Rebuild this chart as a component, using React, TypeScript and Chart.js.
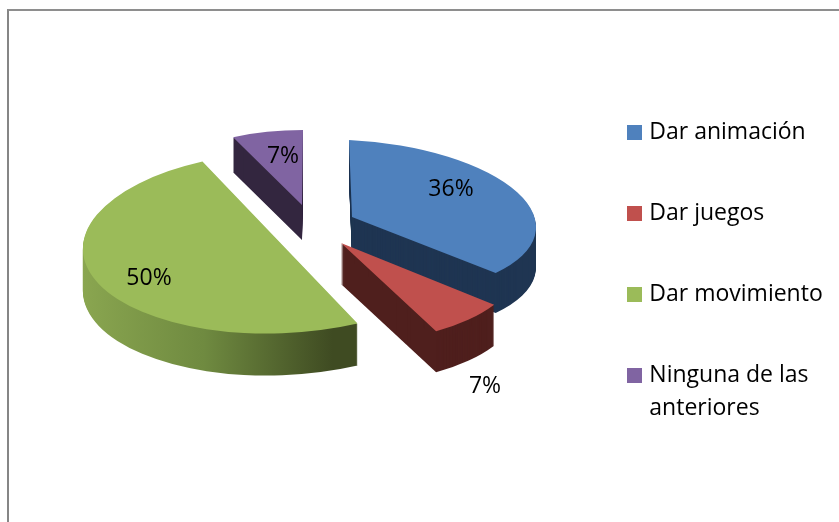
import React, { useEffect, useRef } from "react";
import { Chart, registerables } from "chart.js";

Chart.register(...registerables);

const categories = ["Dar animación", "Dar juegos", "Dar movimiento", ["Ninguna de las", "anteriores"]];
const shares = [36, 7, 50, 7];
const percentLabels = ["36%", "7%", "50%", "7%"];
const topColors = ["#4f81bd", "#c0504d", "#9bbb59", "#8064a2"];
const sideColors = ["#1f3552", "#4f1f1d", "", "#33263f"];

// Perspective look of each exploded slice: a,b,c,d project the unit disc onto the screen,
// dx,dy shift the slice's apex from the canvas centre, depth is the wall height.
const sliceViews = [
  { a: 184, b: 3, c: 9, d: 77, dx: -67.5, dy: -44, depth: 40 },
  { a: 183, b: 19, c: -1, d: 98, dx: -78.5, dy: -18, depth: 41 },
  { a: 197, b: -7, c: -3, d: 91, dx: -139.5, dy: -18.5, depth: 42 },
  { a: 164, b: -1, c: 0, d: 75, dx: -117.5, dy: -56, depth: 35 },
];
const labelShifts = [
  [99, -28],
  [144, 143],
  [-131, 35.5],
  [-19, -49],
];
const drawOrder = [3, 0, 2, 1];
const FONT = "'Open Sans'";
const FONT_SIZE = 23;

function swatch(color: string) {
  const c = document.createElement("canvas");
  c.width = 15;
  c.height = 15;
  const g = c.getContext("2d")!;
  g.fillStyle = color;
  g.fillRect(0, 0, 15, 15);
  return c;
}

const pie3d = {
  id: "pie3d",
  beforeDatasetDraw(chart: any) {
    const { ctx } = chart;
    const arcs = chart.getDatasetMeta(0).data;
    const paint = (el: any, view: any, lift: number, fill: any) => {
      const R = el.outerRadius;
      const A = view.a / R, B = view.c / R, C = view.b / R, D = view.d / R;
      const px = chart.width / 2 + view.dx;
      const py = chart.height / 2 + view.dy + lift;
      const saved = el.options;
      ctx.save();
      ctx.transform(A, B, C, D, px - (A * el.x + C * el.y), py - (B * el.x + D * el.y));
      el.options = { ...saved, backgroundColor: fill };
      el.draw(ctx);
      el.options = saved;
      ctx.restore();
    };
    for (const i of drawOrder) {
      const el = arcs[i];
      const view = sliceViews[i];
      let side: any = sideColors[i];
      if (!side) {
        const R = el.outerRadius;
        const g = ctx.createLinearGradient(el.x - R, 0, el.x + 0.3 * R, 0);
        g.addColorStop(0, "#8aa650");
        g.addColorStop(0.5, "#6f8a40");
        g.addColorStop(1, "#3f4b22");
        side = g;
      }
      for (let k = view.depth; k >= 1; k--) paint(el, view, k, side);
      paint(el, view, 0, topColors[i]);
    }
    ctx.save();
    ctx.fillStyle = "#000";
    ctx.font = `${FONT_SIZE}px ${FONT}`;
    ctx.textAlign = "center";
    ctx.textBaseline = "middle";
    percentLabels.forEach((t, i) => {
      const view = sliceViews[i];
      ctx.fillText(t, chart.width / 2 + view.dx + labelShifts[i][0], chart.height / 2 + view.dy + labelShifts[i][1]);
    });
    ctx.restore();
    return false;
  },
};

export default function App() {
  const ref = useRef<HTMLCanvasElement>(null);
  useEffect(() => {
    document.body.style.margin = "0";
    const chart = new Chart(ref.current!, {
      type: "pie",
      data: {
        labels: categories as any,
        datasets: [{ data: shares, backgroundColor: topColors, borderWidth: 0 }],
      },
      options: {
        animation: false,
        responsive: false,
        layout: { padding: { top: 63, right: 6.25 } },
        plugins: {
          tooltip: { enabled: false },
          legend: {
            position: "right",
            align: "start",
            labels: {
              usePointStyle: true,
              pointStyleWidth: 6,
              boxHeight: 15,
              padding: 58,
              color: "#000",
              font: { family: "'Open Sans'", size: FONT_SIZE, lineHeight: 33 / FONT_SIZE },
              generateLabels: (c: any) =>
                c.data.labels.map((text: any, i: number) => ({
                  text,
                  fillStyle: topColors[i],
                  strokeStyle: topColors[i],
                  lineWidth: 0,
                  fontColor: "#000",
                  pointStyle: swatch(topColors[i]),
                  index: i,
                  hidden: false,
                })),
            },
          },
        },
      },
      plugins: [pie3d],
    } as any);
    return () => chart.destroy();
  }, []);
  return (
    <div style={{ position: "absolute", left: 0, top: 0, width: 839, height: 522, background: "#fff", overflow: "hidden" }}>
      <div style={{ position: "absolute", left: 7, top: 9, right: 0, bottom: 0, borderLeft: "2px solid #868686", borderTop: "2px solid #8e8e8e" }} />
      <canvas ref={ref} width={839} height={522} style={{ position: "absolute", left: 0, top: 0, display: "block" }} />
    </div>
  );
}
